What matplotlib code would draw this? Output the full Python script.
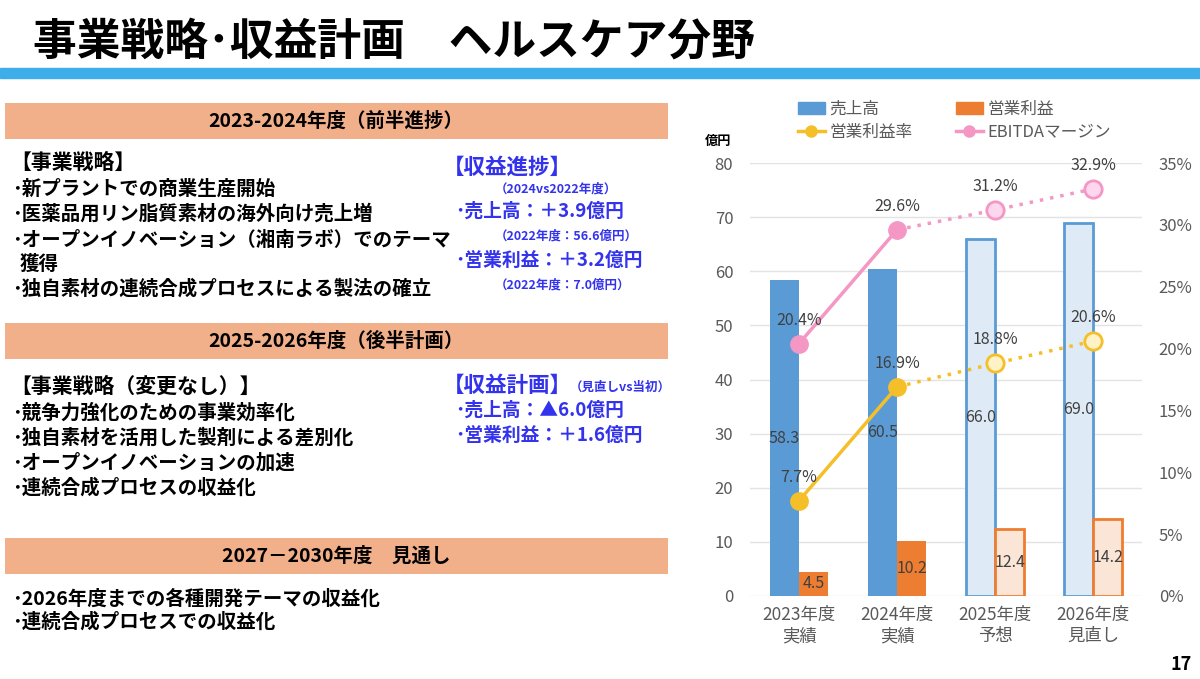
import matplotlib
matplotlib.use("Agg")
import matplotlib.pyplot as plt
import numpy as np
from matplotlib.patches import Rectangle, Patch
from matplotlib.lines import Line2D

plt.rcParams['font.family'] = ['Noto Sans CJK JP', 'DejaVu Sans']

W, H = 1200, 679

# ---- chart data ----
categories = ["2023年度\n実績", "2024年度\n実績", "2025年度\n予想", "2026年度\n見直し"]
sales = [58.3, 60.5, 66.0, 69.0]          # 売上高 (億円)
op_profit = [4.5, 10.2, 12.4, 14.2]       # 営業利益 (億円)
op_margin = [7.7, 16.9, 18.8, 20.6]       # 営業利益率 (%)
ebitda_margin = [20.4, 29.6, 31.2, 32.9]  # EBITDAマージン (%)
n_actual = 2                              # first two years are actuals

left_ticks = [0, 10, 20, 30, 40, 50, 60, 70, 80]
right_ticks = [0, 5, 10, 15, 20, 25, 30, 35]

BLUE, BLUE_LT = "#5B9BD5", "#DEEBF7"
ORANGE, ORANGE_LT = "#ED7D31", "#FBE5D6"
YELLOW, YELLOW_LT = "#F5BF2A", "#FFF2C6"
PINK, PINK_LT = "#F497C5", "#FDD7EE"
GRAY = "#595959"
LABEL = "#404040"
TEXT_BLUE = "#3333EE"


def px(x, y):
    return x / W, 1 - y / H


fig = plt.figure(figsize=(W / 100, H / 100), dpi=100)

# ---- slide title & rule ----
fig.text(*px(33, 42), "事業戦略･収益計画　ヘルスケア分野", fontsize=31.5,
         fontweight="bold", va="center", ha="left")
fig.patches.append(Rectangle(px(0, 78), 1, 10 / H, transform=fig.transFigure,
                             color="#3DAEE9", zorder=0))

# ---- section headers ----
headers = [(103, "2023-2024年度（前半進捗）"),
           (323, "2025-2026年度（後半計画）"),
           (538, "2027－2030年度　見通し")]
for top, label in headers:
    fig.patches.append(Rectangle(px(5, top + 36), 663 / W, 36 / H,
                                 transform=fig.transFigure, facecolor="#F2B08A",
                                 edgecolor="none", zorder=0))
    fig.text(*px(336, top + 18), label, fontsize=14, fontweight="bold",
             va="center", ha="center")


def body(x, y, s, size=14, color="black"):
    fig.text(*px(x, y), s, fontsize=size, fontweight="bold", color=color,
             va="center", ha="left")


# section 1
body(10, 162, "【事業戦略】", 15)
body(12, 189, "･新プラントでの商業生産開始")
body(12, 214, "･医薬品用リン脂質素材の海外向け売上増")
body(12, 240, "･オープンイノベーション（湘南ラボ）でのテーマ")
body(20, 264, "獲得")
body(12, 289, "･独自素材の連続合成プロセスによる製法の確立")
body(443, 167, "【収益進捗】", 15.5, TEXT_BLUE)
body(495, 189, "（2024vs2022年度）", 9, TEXT_BLUE)
body(455, 211, "･売上高：＋3.9億円", 13.5, TEXT_BLUE)
body(495, 236, "（2022年度：56.6億円）", 9, TEXT_BLUE)
body(455, 260, "･営業利益：＋3.2億円", 13.5, TEXT_BLUE)
body(495, 285, "（2022年度：7.0億円）", 9, TEXT_BLUE)

# section 2
body(10, 386, "【事業戦略（変更なし）】", 15)
body(12, 413, "･競争力強化のための事業効率化")
body(12, 438, "･独自素材を活用した製剤による差別化")
body(12, 463, "･オープンイノベーションの加速")
body(12, 488, "･連続合成プロセスの収益化")
body(443, 385, "【収益計画】", 15.5, TEXT_BLUE)
body(570, 387, "（見直しvs当初）", 9, TEXT_BLUE)
body(455, 410, "･売上高：▲6.0億円", 13.5, TEXT_BLUE)
body(455, 435, "･営業利益：＋1.6億円", 13.5, TEXT_BLUE)

# section 3
body(12, 599, "･2026年度までの各種開発テーマの収益化")
body(12, 622, "･連続合成プロセスでの収益化")

fig.text(*px(1192, 665), "17", fontsize=13, fontweight="bold", va="center", ha="right")

# ---- chart ----
ax = fig.add_axes([750 / W, 1 - 596 / H, 392 / W, 433 / H])
ax2 = ax.twinx()

x = np.arange(len(categories))
bw = 0.3
for i in range(len(categories)):
    actual = i < n_actual
    ax.bar(x[i] - bw / 2, sales[i], bw, color=BLUE if actual else BLUE_LT,
           edgecolor=BLUE, linewidth=0 if actual else 2, zorder=2)
    ax.bar(x[i] + bw / 2, op_profit[i], bw, color=ORANGE if actual else ORANGE_LT,
           edgecolor=ORANGE, linewidth=0 if actual else 2, zorder=2)
    ax.text(x[i] - bw / 2, sales[i] / 2, f"{sales[i]:.1f}", ha="center", va="center",
            fontsize=11.5, color=LABEL, zorder=3)
    ax.text(x[i] + bw / 2, op_profit[i] / 2, f"{op_profit[i]:.1f}", ha="center",
            va="center", fontsize=11.5, color=LABEL, zorder=3)

for vals, col, col_lt in [(op_margin, YELLOW, YELLOW_LT), (ebitda_margin, PINK, PINK_LT)]:
    ax2.plot(x[:n_actual], vals[:n_actual], color=col, lw=2.5, zorder=3)
    ax2.plot(x[n_actual - 1:], vals[n_actual - 1:], color=col, lw=2.5,
             linestyle=(0, (1, 2)), zorder=3)
    ax2.plot(x[:n_actual], vals[:n_actual], "o", color=col, ms=12.5, mec=col, zorder=4)
    ax2.plot(x[n_actual:], vals[n_actual:], "o", color=col_lt, ms=12.5, mec=col,
             mew=2, zorder=4)
    for xi, v in zip(x, vals):
        ax2.annotate(f"{v:.1f}%", (xi, v), xytext=(0, 17), textcoords="offset points",
                     ha="center", va="center", fontsize=11.5, color=LABEL, zorder=5)

ax.set_xlim(-0.5, 3.5)
ax.set_ylim(0, 80)
ax2.set_ylim(0, 35)
ax.set_yticks(left_ticks)
ax2.set_yticks(right_ticks)
ax2.set_yticklabels([f"{t}%" for t in right_ticks])
ax.set_xticks(x)
ax.set_xticklabels(categories, fontsize=12.5, color=GRAY, linespacing=1.25)
ax.grid(axis="y", color="#E3E3E3", lw=1, zorder=0)
ax.set_axisbelow(True)
for a in (ax, ax2):
    for s in a.spines.values():
        s.set_visible(False)
    a.tick_params(length=0, labelsize=12, labelcolor=GRAY)
ax.tick_params(axis="y", pad=12)
ax2.tick_params(axis="y", pad=12)
ax.tick_params(axis="x", pad=7, labelsize=12.5)
ax2.set_zorder(ax.get_zorder() + 1)
ax2.patch.set_visible(False)

fig.text(*px(705, 141), "億円", fontsize=9.5, fontweight="bold", va="center", ha="left")

handles = [Patch(color=BLUE), Line2D([], [], color=YELLOW, lw=2.5, marker="o", ms=8),
           Patch(color=ORANGE), Line2D([], [], color=PINK, lw=2.5, marker="o", ms=8)]
labels = ["売上高", "営業利益率", "営業利益", "EBITDAマージン"]
fig.legend(handles, labels, ncol=2, loc="upper left", bbox_to_anchor=px(798, 101),
           frameon=False, fontsize=12, labelcolor=GRAY, handlelength=1.6,
           handletextpad=0.3, columnspacing=2.6, labelspacing=0.35,
           borderpad=0, borderaxespad=0)

fig.savefig("out.png", dpi=100)
